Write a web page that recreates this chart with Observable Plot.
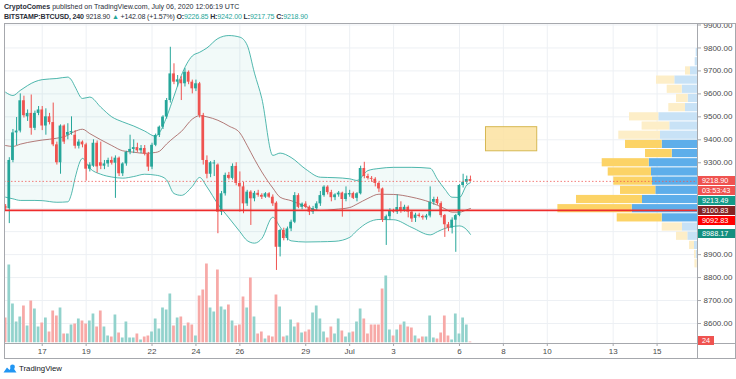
<!DOCTYPE html>
<html><head><meta charset="utf-8">
<script src="https://cdn.jsdelivr.net/npm/d3@7"></script>
<script src="https://cdn.jsdelivr.net/npm/@observablehq/plot@0.6"></script>
<style>
body{margin:0;background:#fff;font-family:"Liberation Sans",Arial,sans-serif;}
#wrap{position:relative;width:736px;height:379px;overflow:hidden;background:#fff;}
#wrap svg.layer{position:absolute;left:0;top:0;}
.hdr{position:absolute;left:4px;font-size:7.05px;color:#2a2e39;white-space:nowrap;line-height:9px;}
.hdr2{letter-spacing:-0.15px;}
.hdr .g{color:#26a69a;}
.ln{position:absolute;background:#a6a8ad;}
.plab{position:absolute;left:698px;width:37px;height:9px;line-height:9px;font-size:7.3px;color:#fff;padding-left:4px;box-sizing:border-box;white-space:nowrap;overflow:hidden;}
#logo{position:absolute;left:3px;top:364px;font-size:7.8px;color:#131722;display:flex;align-items:center;gap:2px;}
</style></head><body><div id="wrap"></div>
<script>
// ---- data: BITSTAMP:BTCUSD 4h candles, first bar 2020-06-15 08:00 UTC ----
const firstBarTime = "2020-06-15T08:00:00Z";
const opens = [9110,9100,9310,9430,9438,9570,9500,9515,9450,9515,
 9530,9460,9500,9475,9378,9300,9460,9420,9430,9420,
 9372,9390,9378,9272,9285,9385,9300,9285,9295,9310,
 9298,9320,9252,9295,9346,9358,9366,9352,9362,9338,
 9281,9376,9419,9455,9499,9571,9687,9651,9661,9644,
 9694,9651,9622,9644,9506,9310,9250,9295,9290,9085,
 9165,9245,9232,9284,9210,9195,9121,9172,9143,9167,
 9158,9150,9165,9150,9124,8932,9005,8970,9012,9041,
 9157,9106,9120,9106,9085,9100,9121,9157,9194,9170,
 9148,9160,9168,9140,9160,9166,9145,9165,9275,9240,
 9232,9228,9210,9186,9050,9065,9092,9085,9105,9092,
 9106,9085,9058,9072,9066,9060,9068,9128,9140,9122,
 9070,9030,9015,9050,9070,9201,9215,9226.85];
const highs = [9118,9322,9445,9497,9600,9590,9530,9595,9525,9545,
 9545,9535,9515,9560,9390,9465,9465,9470,9500,9440,
 9400,9395,9385,9300,9400,9395,9390,9310,9320,9325,
 9330,9325,9300,9350,9420,9400,9385,9375,9375,9345,
 9385,9425,9460,9505,9580,9803,9731,9680,9675,9710,
 9700,9660,9660,9650,9515,9330,9305,9310,9295,9175,
 9255,9258,9295,9300,9260,9215,9180,9178,9175,9180,
 9165,9170,9170,9160,9130,9010,9015,9020,9050,9170,
 9165,9125,9130,9112,9110,9130,9175,9200,9200,9180,
 9165,9175,9172,9195,9180,9172,9170,9285,9302,9250,
 9240,9235,9215,9190,9072,9100,9098,9160,9130,9115,
 9112,9090,9080,9080,9072,9075,9195,9150,9150,9130,
 9075,9040,9060,9075,9205,9250,9242,9242];
const lows = [9090,9035,9300,9375,9430,9495,9480,9420,9440,9505,
 9440,9420,9465,9370,9290,9250,9380,9400,9420,9360,
 9360,9365,9220,9260,9280,9255,9270,9270,9280,9290,
 9145,9240,9240,9285,9335,9340,9345,9340,9330,9262,
 9270,9370,9410,9445,9490,9560,9640,9630,9571,9630,
 9640,9600,9610,9495,9290,9230,9235,9240,8991,9070,
 9155,9225,9225,9200,9085,9078,9110,9027,9130,9150,
 9140,9145,9145,9110,8831,8890,8960,8960,9000,9035,
 9100,9095,9100,9070,9075,9090,9110,9150,9160,9130,
 9135,9150,9063,9130,9150,9140,9130,9160,9230,9225,
 9215,9195,9170,9040,8940,9050,9080,9075,9080,9085,
 9060,9040,9040,9060,9050,9050,9060,9115,9115,9060,
 8975,9000,8990,8910,9065,9190,9205,9217.75];
const closes = [9100,9310,9430,9438,9570,9505,9515,9450,9515,9530,
 9460,9500,9475,9378,9300,9460,9390,9432,9436,9372,
 9390,9378,9272,9290,9385,9282,9285,9295,9310,9298,
 9320,9252,9295,9346,9358,9366,9352,9362,9338,9281,
 9376,9419,9455,9499,9571,9687,9651,9661,9644,9694,
 9651,9622,9644,9506,9310,9250,9300,9298,9085,9165,
 9245,9232,9284,9210,9195,9121,9172,9143,9167,9158,
 9150,9165,9150,9121,8932,9005,8970,9012,9041,9157,
 9106,9120,9106,9085,9100,9121,9157,9194,9170,9148,
 9160,9168,9140,9165,9166,9145,9165,9275,9240,9232,
 9228,9210,9186,9050,9065,9092,9085,9105,9092,9106,
 9085,9055,9072,9066,9060,9068,9128,9140,9122,9070,
 9030,9015,9050,9070,9201,9215,9227,9218.9];
const volumes = [25,78,39,21,26,37,17,42,34,16,
 20,25,11,32,27,35,9,9,18,19,
 24,22,19,22,29,16,32,16,7,6,
 28,10,5,21,5,5,9,3,6,7,
 11,24,14,35,33,49,17,25,26,17,
 20,18,7,47,53,79,35,31,73,36,
 33,38,22,17,18,46,35,65,26,9,
 11,4,7,6,48,36,6,7,23,16,
 20,10,11,13,30,37,24,11,5,16,
 9,24,12,6,10,11,21,34,24,9,
 18,18,18,54,67,13,7,13,18,21,
 16,15,7,4,6,6,27,5,4,10,
 27,7,3,29,9,25,18,1];

const bbBar = [0,2,4,8,10,14,17,18,19,21,23,26,29,32,35,38,41,42,44,46,48,51,53,55,58,61,64,66,68,70,73,75,78,82,86,90,94,96,99,102,106,111,116,118,120,122,124,126,127];
const bbUpper = [9607,9593,9615,9653,9662,9667,9673,9660,9630,9580,9586,9542,9500,9478,9460,9438,9415,9430,9500,9590,9680,9765,9781,9800,9841,9854,9847,9812,9690,9580,9332,9342,9323,9272,9237,9235,9230,9223,9266,9275,9280,9280,9276,9228,9185,9150,9149,9203,9213.49];
const bbBasis = [9375,9371,9381,9394,9399,9407,9420,9430,9437,9446,9427,9400,9375,9352,9346,9341,9345,9350,9382,9410,9436,9490,9505,9500,9485,9460,9430,9375,9315,9260,9190,9150,9135,9110,9092,9097,9105,9120,9145,9163,9162,9150,9128,9115,9100,9085,9085,9095,9100.83];
const bbLower = [9150,9143,9136,9136,9135,9128,9130,9165,9235,9319,9276,9250,9238,9233,9240,9250,9246,9243,9225,9166,9158,9197,9236,9195,9120,9060,9000,8961,8950,8970,9063,9020,8960,8955,8956,8958,8975,9005,9040,9053,9052,9018,8986,9000,9014,9022,9025,9008,8988.17];

// Volume profile (visible range), rows of 40 USD
const vpLow  = [8840,8880,8920,8960,9000,9040,9080,9120,9160,9200,9240,9280,9320,9360,9400,9440,9480,9520,9560,9600,9640,9680,9720,9760];
const vpUp   = [3,13,30,97,150,353,653,550,417,450,460,483,253,353,370,277,387,120,93,153,227,70,23,13];
const vpDown = [23,17,50,113,203,450,743,660,353,387,433,470,267,367,417,277,293,167,117,150,183,50,0,0];
const vpValueArea = [9040, 9400];

const priceTicks = [8600,8700,8800,8900,9000,9100,9200,9300,9400,9500,9600,9700,9800,9900];
const dateTicks = ["2020-06-17","2020-06-19","2020-06-22","2020-06-24","2020-06-26","2020-06-29","2020-07-01","2020-07-03","2020-07-06","2020-07-08","2020-07-10","2020-07-13","2020-07-15"];
const dateTickLabels = ["17","19","22","24","26","29","Jul","3","6","8","10","13","15"];

const horizontalLine = 9092.83;
const lastPrice = 9218.90;
const change = 142.08, changePct = 1.57;
const countdown = "03:53:43";
const drawnBox = {t1:"2020-07-07T05:00:00Z", t2:"2020-07-09T13:00:00Z", p1:9350, p2:9455};
const volumeLabel = "24";

// ---- build ----
const H4 = 4*3600e3;
const t0 = Date.parse(firstBarTime);
const candles = opens.map((o,k)=>({t:new Date(t0+k*H4), o, h:highs[k], l:lows[k], c:closes[k], v:volumes[k]}));
const bands = bbBar.map((b,k)=>({t:candles[b].t, up:bbUpper[k], mid:bbBasis[k], lo:bbLower[k]}));
const vpRows = vpLow.map((p,k)=>({lo:p, hi:p+40, up:vpUp[k], dn:vpDown[k], va:p>=vpValueArea[0] && p<vpValueArea[1]}));
const tickDates = dateTicks.map(d=>new Date(d+"T00:00:00Z"));
const tickLabelOf = new Map(tickDates.map((d,i)=>[+d, dateTickLabels[i]]));
const last = candles[candles.length-1];

const UP="#26a69a", DN="#ef5350";
const half = 1.5*3600e3;
const xDomain = [new Date("2020-06-15T06:46:00Z"), new Date("2020-07-16T20:10:00Z")];
const yDomain = [8512.9, 9906.5];
const common = {width:736, height:379, marginLeft:4, marginRight:39};
const font = "Liberation Sans, Arial, sans-serif";

// axis price labels (TradingView stacks them to avoid overlap)
const priceLabels = [
  {text:lastPrice.toFixed(2), value:lastPrice, bg:DN, dy:0},
  {text:countdown, value:lastPrice, bg:DN, dy:10},
  {text:bbUpper[bbUpper.length-1].toFixed(2), value:bbUpper[bbUpper.length-1], bg:"#139a88", dy:18.6},
  {text:bbBasis[bbBasis.length-1].toFixed(2), value:bbBasis[bbBasis.length-1], bg:"#862424", dy:2.7},
  {text:horizontalLine.toFixed(2), value:horizontalLine, bg:"#ff0000", dy:10.6},
  {text:bbLower[bbLower.length-1].toFixed(2), value:bbLower[bbLower.length-1], bg:"#138f7f", dy:0}
];
// tick labels hidden under those labels, as in TradingView
const yPix = d3.scaleLinear(yDomain, [379-36, 23]);
const visibleTicks = priceTicks.filter(t => !priceLabels.some(p => Math.abs(yPix(p.value)+p.dy - yPix(t)) < 9.5));

const main = Plot.plot({
  ...common, marginTop:23, marginBottom:36,
  x:{type:"utc", domain:xDomain},
  y:{domain:yDomain},
  style:{background:"transparent", fontFamily:font, fontSize:"8px", color:"#4a4a4a"},
  marks:[
    Plot.ruleY(priceTicks, {stroke:"#edf0f4"}),
    Plot.ruleX(tickDates, {stroke:"#edf0f4"}),
    Plot.areaY(bands, {x:"t", y1:"lo", y2:"up", fill:UP, fillOpacity:0.06, curve:"monotone-x"}),
    Plot.line(bands, {x:"t", y:"up", stroke:UP, strokeOpacity:0.8, strokeWidth:1, curve:"monotone-x"}),
    Plot.line(bands, {x:"t", y:"lo", stroke:UP, strokeOpacity:0.8, strokeWidth:1, curve:"monotone-x"}),
    Plot.line(bands, {x:"t", y:"mid", stroke:"#9c4f4c", strokeOpacity:0.75, strokeWidth:1, curve:"monotone-x"}),
    Plot.rect([drawnBox], {x1:d=>new Date(d.t1), x2:d=>new Date(d.t2), y1:"p1", y2:"p2", fill:"#fbe2a0", fillOpacity:0.85, stroke:"#d6b853", strokeWidth:1}),
    Plot.ruleX(candles, {x:"t", y1:"l", y2:"h", stroke:d=>d.c>=d.o?UP:DN, strokeWidth:1, clip:true}),
    Plot.rect(candles, {x1:d=>new Date(+d.t-half), x2:d=>new Date(+d.t+half),
      y1:d=>Math.min(d.o,d.c), y2:d=>Math.max(d.o,d.c,Math.min(d.o,d.c)+4),
      fill:d=>d.c>=d.o?UP:DN, clip:true}),
    Plot.axisY({anchor:"right", ticks:visibleTicks, tickFormat:d=>d.toFixed(2), tickSize:3, tickPadding:3, stroke:"#a6a8ad", fill:"#4a4a4a", label:null}),
    Plot.axisX({anchor:"bottom", ticks:tickDates, tickFormat:d=>tickLabelOf.get(+d), tickSize:3, tickPadding:2, stroke:"#a6a8ad", fill:"#4a4a4a", label:null})
  ]
});

const vol = Plot.plot({
  ...common, marginTop:242.5, marginBottom:36.5,
  x:{type:"utc", domain:xDomain, axis:null},
  y:{domain:[0,100], axis:null},
  style:{background:"transparent"},
  marks:[
    Plot.rect(candles, {x1:d=>new Date(+d.t-half), x2:d=>new Date(+d.t+half), y1:0, y2:"v",
      fill:d=>d.c>=d.o?"#92d2cc":"#f7a9a7", clip:true})
  ]
});

const vp = Plot.plot({
  ...common, marginTop:23, marginBottom:36,
  x:{domain:[0,6930], reverse:true, axis:null},
  y:{domain:yDomain, axis:null},
  style:{background:"transparent"},
  marks:[
    Plot.rect(vpRows, {x1:0, x2:"up", y1:"lo", y2:"hi", insetTop:0.5, insetBottom:0.5, fill:d=>d.va?"#5eaeea":"#c8e2f6"}),
    Plot.rect(vpRows, {x1:"up", x2:d=>d.up+d.dn, y1:"lo", y2:"hi", insetTop:0.5, insetBottom:0.5, fill:d=>d.va?"#fcd366":"#fdeec8"}),
    Plot.ruleY([lastPrice], {stroke:DN, strokeOpacity:0.75, strokeDasharray:"1.5,2", strokeWidth:1}),
    Plot.ruleY([horizontalLine], {stroke:"#ee2c2c", strokeWidth:1.6})
  ]
});

const wrap = document.getElementById("wrap");
for (const s of [main, vol, vp]) { s.classList.add("layer"); wrap.appendChild(s); }

// frame lines
const lines = [[4,23,732,1],[4,23,1,336],[4,358,732,1],[697,23,1,336],[4,342.5,732,1],[735,23,1,336]];
for (const [l,t,w,h] of lines) { const d=document.createElement("div"); d.className="ln"; Object.assign(d.style,{left:l+"px",top:t+"px",width:w+"px",height:h+"px"}); wrap.appendChild(d); }

const ys = vp.scale("y");
for (const p of priceLabels) {
  const d=document.createElement("div"); d.className="plab"; d.textContent=p.text;
  d.style.background=p.bg; d.style.top=(ys.apply(p.value)+p.dy-4.5)+"px"; wrap.appendChild(d);
}
const vy = vol.scale("y");
{ const d=document.createElement("div"); d.className="plab"; d.textContent=volumeLabel; d.style.background=DN; d.style.width="16px";
  d.style.top=(Math.min(vy.apply(last.v), 338)-2)+"px"; wrap.appendChild(d); }

// header
const h1=document.createElement("div"); h1.className="hdr"; h1.style.top="1.5px";
h1.innerHTML="<b>CryptoComes</b> published on TradingView.com, July 06, 2020 12:06:19 UTC";
wrap.appendChild(h1);
const h2=document.createElement("div"); h2.className="hdr hdr2"; h2.style.top="11.5px";
h2.innerHTML=`<b>BITSTAMP:BTCUSD, 240</b> ${last.c.toFixed(2)} <span class="g">▲</span> +${change.toFixed(2)} (+${changePct.toFixed(2)}%) <b>O:</b><span class="g">${last.o.toFixed(2)}</span> <b>H:</b><span class="g">${last.h.toFixed(2)}</span> <b>L:</b><span class="g">${last.l.toFixed(2)}</span> <b>C:</b><span class="g">${last.c.toFixed(2)}</span>`;
wrap.appendChild(h2);

// logo
const logo=document.createElement("div"); logo.id="logo";
logo.innerHTML='<svg width="14" height="9" viewBox="0 0 14 9"><path d="M0.5 8.5 L4 3.5 L6.5 6 L9 2 L13.5 8.5 Z" fill="#2196f3"/><circle cx="9.5" cy="3" r="2.4" fill="#2196f3"/></svg><span>TradingView</span>';
wrap.appendChild(logo);
</script></body></html>
